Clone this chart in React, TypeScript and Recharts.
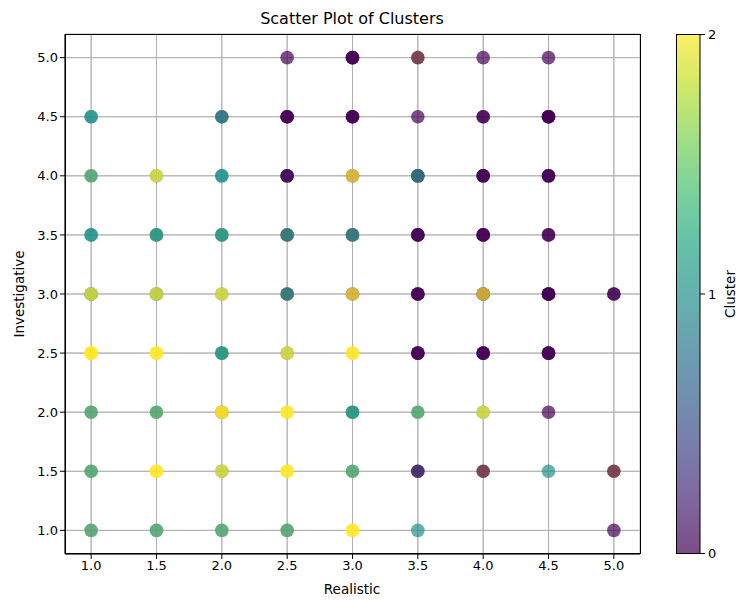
import { ScatterChart, Scatter, XAxis, YAxis, CartesianGrid, ReferenceLine } from 'recharts';

// grid positions that hold points, and the clusters drawn there (bottom first)
const realistic = [
  2.5, 3.0, 3.5, 4.0, 4.5,
  1.0, 2.0, 2.5, 3.0, 3.5, 4.0, 4.5,
  1.0, 1.5, 2.0, 2.5, 3.0, 3.5, 4.0, 4.5,
  1.0, 1.5, 2.0, 2.5, 3.0, 3.5, 4.0, 4.5,
  1.0, 1.5, 2.0, 2.5, 3.0, 3.5, 4.0, 4.5, 5.0,
  1.0, 1.5, 2.0, 2.5, 3.0, 3.5, 4.0, 4.5,
  1.0, 1.5, 2.0, 2.5, 3.0, 3.5, 4.0, 4.5,
  1.0, 1.5, 2.0, 2.5, 3.0, 3.5, 4.0, 4.5, 5.0,
  1.0, 1.5, 2.0, 2.5, 3.0, 3.5, 5.0,
];
const investigative = [
  5.0, 5.0, 5.0, 5.0, 5.0,
  4.5, 4.5, 4.5, 4.5, 4.5, 4.5, 4.5,
  4.0, 4.0, 4.0, 4.0, 4.0, 4.0, 4.0, 4.0,
  3.5, 3.5, 3.5, 3.5, 3.5, 3.5, 3.5, 3.5,
  3.0, 3.0, 3.0, 3.0, 3.0, 3.0, 3.0, 3.0, 3.0,
  2.5, 2.5, 2.5, 2.5, 2.5, 2.5, 2.5, 2.5,
  2.0, 2.0, 2.0, 2.0, 2.0, 2.0, 2.0, 2.0,
  1.5, 1.5, 1.5, 1.5, 1.5, 1.5, 1.5, 1.5, 1.5,
  1.0, 1.0, 1.0, 1.0, 1.0, 1.0, 1.0,
];
const clusterStacks = [
  [0], [0, 0, 0], [2, 0], [0], [0],
  [1, 1], [0, 1], [0, 0, 0], [0, 0, 0], [0], [0, 0], [0, 0, 0, 0],
  [2, 1], [1, 2], [1, 1], [1, 0, 0], [0, 2], [0, 0, 1], [0, 0, 0], [0, 0, 0],
  [1, 1], [2, 1, 1], [2, 1, 1], [2, 0, 1], [2, 0, 1], [0, 0, 0], [0, 0, 0], [0, 0],
  [1, 1, 2], [1, 1, 2], [1, 2], [2, 0, 1], [0, 2], [0, 0, 0], [0, 0, 2], [0, 0, 0, 0], [0, 0],
  [2, 2, 2], [2, 2], [2, 1, 1], [1, 2], [2, 2], [0, 0, 0], [0, 0, 0], [0, 0, 0],
  [2, 1], [2, 1], [0, 2, 2], [2, 2], [2, 1, 1], [2, 1], [1, 2], [0],
  [2, 1], [2, 2], [1, 2], [2, 2], [2, 1], [1, 0], [2, 0], [1], [2, 0],
  [2, 1], [2, 1], [2, 1], [2, 1], [2, 2], [1], [0],
];
const ticks = [1.0, 1.5, 2.0, 2.5, 3.0, 3.5, 4.0, 4.5, 5.0];

const clusterColors = ['#440154', '#21918c', '#fde725'];
const viridisStops = [
  '#440154', '#482475', '#414487', '#355f8d', '#2a788e', '#21918c',
  '#22a884', '#44bf70', '#7ad151', '#bddf26', '#fde725',
];

type Pt = { x: number; y: number; cluster: number };

// split overlapping points into layers so they stack in plot order
const layers: Pt[][] = [];
clusterStacks.forEach((stack, i) => {
  stack.forEach((c, depth) => {
    if (!layers[depth]) layers[depth] = [];
    layers[depth].push({ x: realistic[i], y: investigative[i], cluster: c });
  });
});

const font = '"DejaVu Sans", sans-serif';

const Dot = (props: any) => {
  const { cx, cy, payload } = props;
  return <circle cx={cx} cy={cy} r={6.8} fill={clusterColors[payload.cluster]} fillOpacity={0.7} />;
};

const App = () => {
  const tick = { fill: '#000', fontSize: 13, fontFamily: font };
  return (
    <div style={{ position: 'absolute', left: 0, top: 0, width: 738, height: 601, background: '#fff' }}>
      <ScatterChart width={738} height={601} margin={{ top: 34, right: 98, bottom: 0, left: 0 }}>
        <CartesianGrid stroke="#b0b0b0" strokeWidth={1} />
        <XAxis
          type="number"
          dataKey="x"
          domain={[0.8, 5.2]}
          ticks={ticks}
          tickFormatter={(v: number) => v.toFixed(1)}
          height={47}
          tick={tick}
          tickSize={5}
          axisLine={{ stroke: '#000' }}
          tickLine={{ stroke: '#000' }}
          allowDataOverflow
        />
        <YAxis
          type="number"
          dataKey="y"
          domain={[0.8, 5.2]}
          ticks={ticks}
          tickFormatter={(v: number) => v.toFixed(1)}
          width={65}
          tick={tick}
          tickSize={5}
          axisLine={{ stroke: '#000' }}
          tickLine={{ stroke: '#000' }}
          allowDataOverflow
        />
        {layers.map((layer, i) => (
          <Scatter key={i} data={layer} shape={Dot} isAnimationActive={false} />
        ))}
        {/* matplotlib draws its grid over the markers */}
        {ticks.map((t) => (
          <ReferenceLine key={'x' + t} x={t} stroke="#b0b0b0" strokeOpacity={0.75} strokeWidth={1} />
        ))}
        {ticks.map((t) => (
          <ReferenceLine key={'y' + t} y={t} stroke="#b0b0b0" strokeOpacity={0.75} strokeWidth={1} />
        ))}
      </ScatterChart>
      <svg width={738} height={601} style={{ position: 'absolute', left: 0, top: 0, pointerEvents: 'none' }}>
        <defs>
          <linearGradient id="viridis" x1="0" y1="1" x2="0" y2="0">
            {viridisStops.map((c, i) => (
              <stop key={i} offset={i / (viridisStops.length - 1)} stopColor={c} stopOpacity={0.7} />
            ))}
          </linearGradient>
        </defs>
        <rect x={65.5} y={34.5} width={575} height={519} fill="none" stroke="#000" strokeWidth={1} />
        <text x={352} y={24} textAnchor="middle" fontSize={16} fontFamily={font} fill="#000">
          Scatter Plot of Clusters
        </text>
        <text x={352} y={594} textAnchor="middle" fontSize={13.5} fontFamily={font} fill="#000">
          Realistic
        </text>
        <text
          x={24}
          y={294}
          textAnchor="middle"
          fontSize={13.5}
          fontFamily={font}
          fill="#000"
          transform="rotate(-90 24 294)"
        >
          Investigative
        </text>
        {/* colorbar */}
        <rect x={676} y={34} width={24} height={519} fill="url(#viridis)" />
        <rect x={676.5} y={34.5} width={23.5} height={519} fill="none" stroke="#000" strokeWidth={1} />
        {[0, 1, 2].map((v) => {
          const y = 553.5 - (v / 2) * 519;
          return (
            <g key={v}>
              <line x1={700} x2={705} y1={y} y2={y} stroke="#000" />
              <text x={708} y={y + 4.5} fontSize={13} fontFamily={font} fill="#000">
                {v}
              </text>
            </g>
          );
        })}
        <text
          x={735}
          y={294}
          textAnchor="middle"
          fontSize={13.5}
          fontFamily={font}
          fill="#000"
          transform="rotate(-90 735 294)"
        >
          Cluster
        </text>
      </svg>
    </div>
  );
};

export default App;
